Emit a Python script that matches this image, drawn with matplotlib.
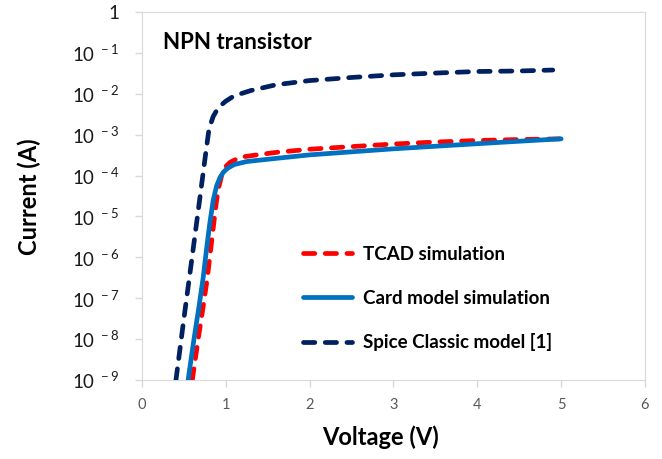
import matplotlib
matplotlib.use("Agg")
import matplotlib.pyplot as plt

plt.rcParams['font.family'] = ['Lato', 'DejaVu Sans']
plt.rcParams['mathtext.fontset'] = 'custom'
plt.rcParams['mathtext.rm'] = 'Lato'

# values (V, A)
tcad_v = [0.6, 0.67, 0.73, 0.78, 0.82, 0.86, 0.89, 0.92, 0.95, 0.99, 1.05,
          1.17, 1.37, 1.61, 2.0, 2.5, 3.0, 3.5, 4.0, 4.5, 5.0]
tcad_i = [1e-9, 1e-8, 6.3e-8, 3.2e-7, 1.6e-6, 7.9e-6, 2.5e-5, 5.6e-5, 1.0e-4,
          1.6e-4, 2.1e-4, 2.8e-4, 3.2e-4, 3.7e-4, 4.4e-4, 5.1e-4, 5.9e-4,
          6.6e-4, 7.2e-4, 7.6e-4, 7.9e-4]

card_v = [0.55, 0.62, 0.68, 0.73, 0.77, 0.81, 0.85, 0.89, 0.93, 0.97, 1.02,
          1.1, 1.25, 1.5, 2.0, 2.5, 3.0, 3.5, 4.0, 4.5, 5.0]
card_i = [1e-9, 1e-8, 6.3e-8, 3.2e-7, 1.6e-6, 7.1e-6, 2.5e-5, 5.6e-5, 8.9e-5,
          1.2e-4, 1.5e-4, 1.86e-4, 2.2e-4, 2.5e-4, 3.2e-4, 3.8e-4, 4.5e-4,
          5.2e-4, 6.0e-4, 6.9e-4, 7.9e-4]

spice_v = [0.405, 0.5, 0.6, 0.7, 0.76, 0.8, 0.85, 0.9, 0.95, 1.0, 1.1, 1.3,
           1.6, 2.0, 2.5, 3.0, 3.5, 4.0, 4.5, 4.9]
spice_i = [1e-9, 3.2e-8, 1.1e-6, 4.0e-5, 3.5e-4, 1.4e-3, 2.8e-3, 4.2e-3,
           5.4e-3, 6.6e-3, 8.9e-3, 1.2e-2, 1.66e-2, 2.1e-2, 2.5e-2, 2.9e-2,
           3.2e-2, 3.5e-2, 3.6e-2, 3.8e-2]

yticks = [1e-9, 1e-8, 1e-7, 1e-6, 1e-5, 1e-4, 1e-3, 1e-2, 1e-1, 1]
ylabels = [r'$\mathregular{10^{\ -%d}}$' % k for k in range(9, 0, -1)] + ['1']
xticks = [0, 1, 2, 3, 4, 5, 6]

fig = plt.figure(figsize=(6.62, 4.59), dpi=100)
ax = fig.add_axes([0.2145, 0.172, 0.7598, 0.802])

dash = (0, (2.4, 2.2))
ax.plot(tcad_v, tcad_i, color='#ff0000', lw=3.4, ls=dash,
        dash_capstyle='round', label='TCAD simulation', zorder=3)
ax.plot(card_v, card_i, color='#0070c0', lw=3.4, solid_capstyle='round',
        solid_joinstyle='round', label='Card model simulation', zorder=4)
ax.plot(spice_v, spice_i, color='#002060', lw=3.4, ls=dash,
        dash_capstyle='round', label='Spice Classic model [1]', zorder=3)

ax.set_yscale('log')
ax.set_ylim(1e-9, 1)
ax.set_xlim(0, 6)
ax.set_yticks(yticks)
ax.set_yticklabels(ylabels, fontsize=13.5, color='#1a1a1a')
ax.minorticks_off()
ax.set_xticks(xticks)
ax.set_xticklabels([str(x) for x in xticks], fontsize=10.5, color='#595959')
ax.tick_params(axis='both', color='#d9d9d9', length=5, width=1)
ax.tick_params(axis='y', pad=11)
ax.tick_params(axis='x', pad=8)
for s in ax.spines.values():
    s.set_color('#d9d9d9')

ax.text(0.042, 0.918, 'NPN transistor', transform=ax.transAxes,
        fontsize=16, fontweight='bold', va='center', ha='left')

ax.legend(loc='upper left', bbox_to_anchor=(0.32, 0.364), frameon=False,
          prop={'size': 13.5, 'weight': 'bold'}, handlelength=2.6,
          handletextpad=0.6, labelspacing=1.42, borderpad=0,
          borderaxespad=0)

fig.text(0.045, 0.571, 'Current (A)', rotation=90, fontsize=17,
         fontweight='bold', ha='center', va='center')
fig.text(0.575, 0.048, 'Voltage (V)', fontsize=17, fontweight='bold',
         ha='center', va='center')

fig.savefig('out.png', dpi=100)
